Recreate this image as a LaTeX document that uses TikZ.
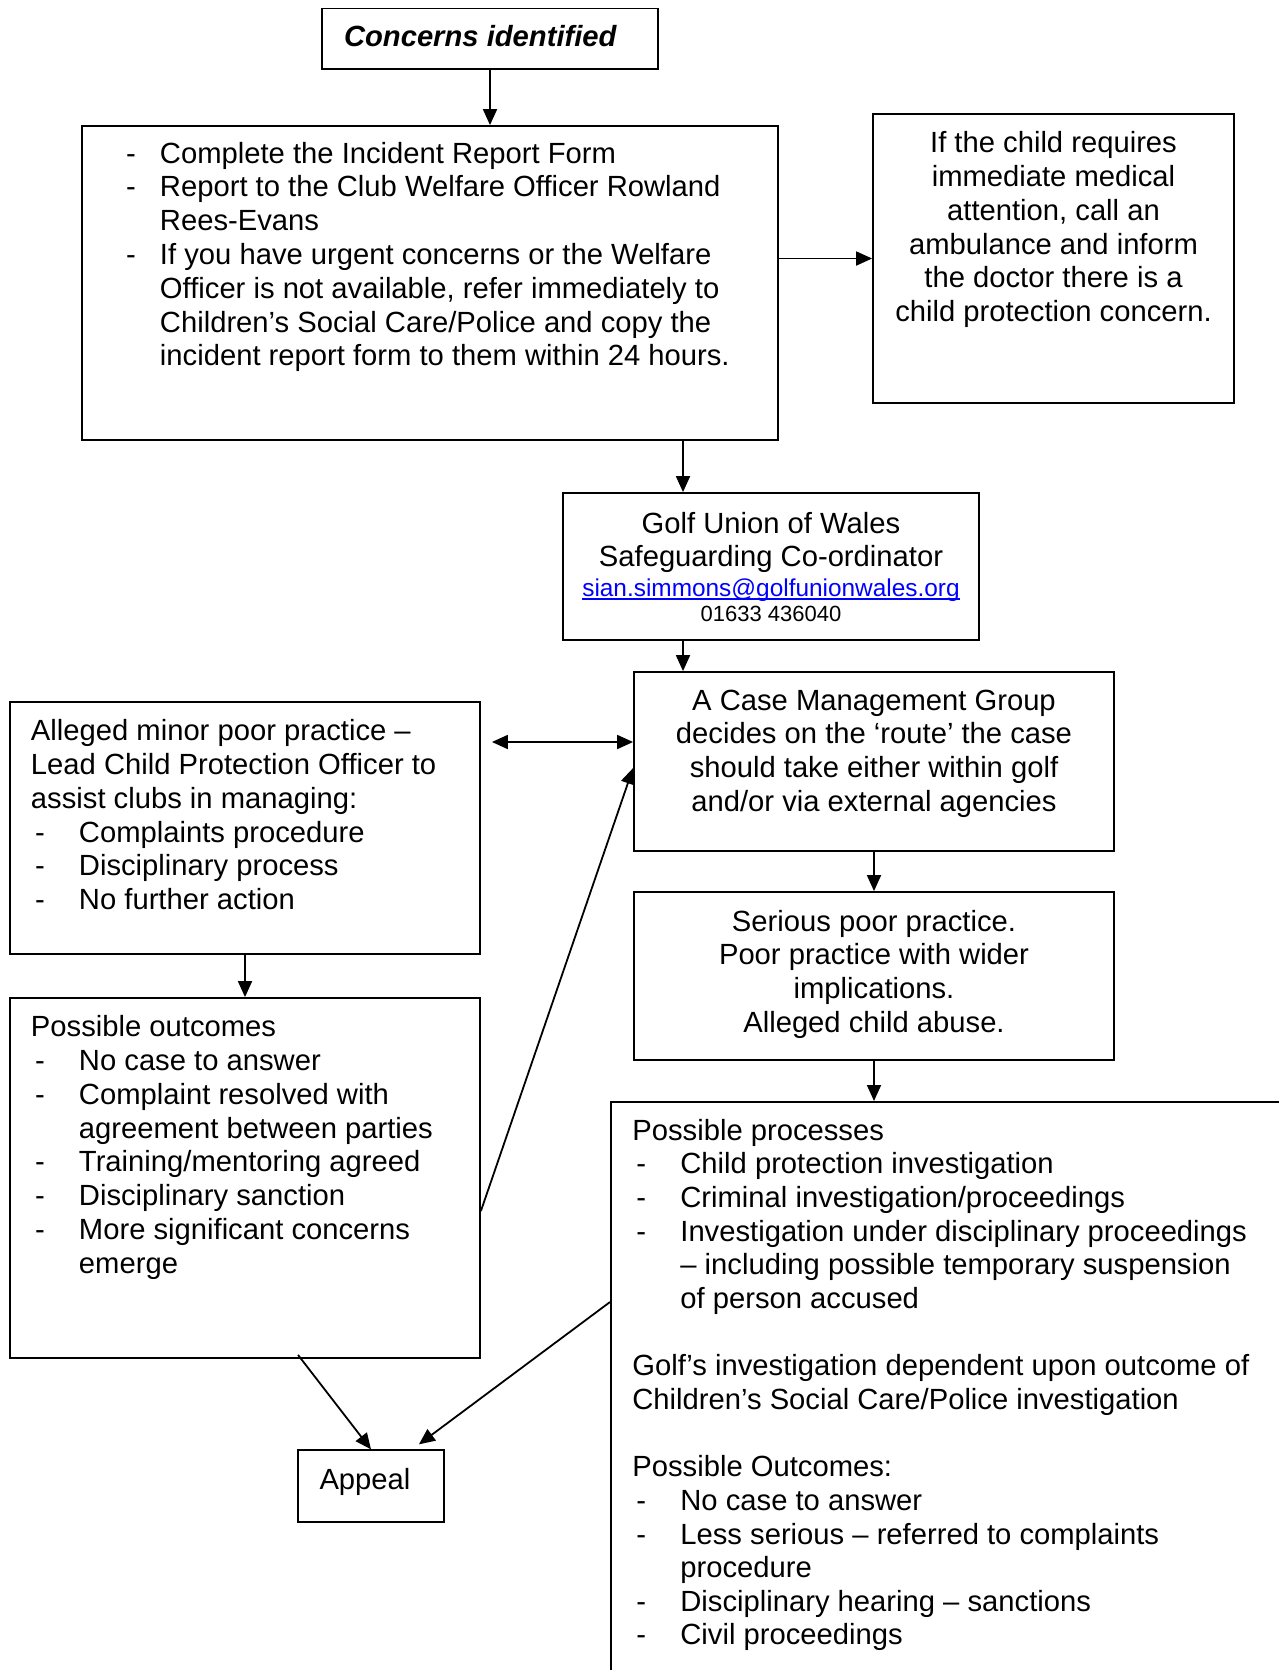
\documentclass[tikz,border=0pt]{standalone}
\usepackage{fontspec}
\setmainfont{Liberation Sans}
\usetikzlibrary{arrows.meta,calc}
\newcommand{\dl}[1]{\makebox[24pt][l]{\hspace{2pt}-}#1}
\newcommand{\dlb}[1]{\makebox[17pt][l]{-}#1}
\newcommand{\cont}{\hspace*{24pt}}
\newlength{\ulw}
\newcommand{\ulink}[1]{\settowidth{\ulw}{#1}#1\hspace{-\ulw}\rule[-1.4pt]{\ulw}{0.6pt}}
\begin{document}
\begin{tikzpicture}[x=0.5pt,y=-0.5pt,line width=0.9pt,
    font=\fontsize{14.6}{16.9}\selectfont,
    >={Triangle[length=8pt,width=7pt]},
    box/.style={draw,rectangle,inner sep=0pt},
    txt/.style={inner sep=0pt,align=left,anchor=north west},
    ctxt/.style={inner sep=0pt,align=center,anchor=north}]
    \useasboundingbox (0,0) rectangle (1279,1670);

    % boxes
    \node[box,minimum width=168pt,minimum height=30.25pt] (conc) at (490,38.75) {};
    \node[box,minimum width=348pt,minimum height=157pt] (b1) at (430,283) {};
    \node[box,minimum width=180.5pt,minimum height=144.5pt] (med) at (1053.5,258.5) {};
    \node[box,minimum width=208pt,minimum height=73.5pt] (guw) at (771,566.5) {};
    \node[box,minimum width=240pt,minimum height=89.5pt] (cmg) at (874,761.5) {};
    \node[box,minimum width=235pt,minimum height=126pt] (minor) at (245,828) {};
    \node[box,minimum width=240pt,minimum height=84pt] (serious) at (874,976) {};
    \node[box,minimum width=235pt,minimum height=180pt] (outc) at (245,1178) {};
    \node[box,minimum width=73pt,minimum height=35.75pt] (appeal) at (371,1486) {};
    \begin{scope}
        \clip (0,0) rectangle (1279,1670);
        \node[box,anchor=north west,minimum width=350pt,minimum height=300pt] (proc) at (610,1101) {};
    \end{scope}

    % texts
    \node[txt] (conct) at ($(conc.north west)+(22,17)$) {\textbf{\textit{Concerns identified}}};
    \node[txt] (b1t) at ($(b1.north west)+(44,16)$) {\dlb{Complete the Incident Report Form}\\
        \dlb{Report to the Club Welfare Officer Rowland}\\
        \hspace*{17pt}Rees-Evans\\
        \dlb{If you have urgent concerns or the Welfare}\\
        \hspace*{17pt}Officer is not available, refer immediately to\\
        \hspace*{17pt}Children’s Social Care/Police and copy the\\
        \hspace*{17pt}incident report form to them within 24 hours.};
    \node[ctxt] (medt) at ($(med.north)+(0,17.6)$) {If the child requires\\ immediate medical\\ attention, call an\\
        ambulance and inform\\ the doctor there is a\\ child protection concern.};
    \node[ctxt] (guwt) at ($(guw.north)+(0,19)$) {Golf Union of Wales\\ Safeguarding Co-ordinator\\[-2pt]
        {\fontsize{12.2}{14}\selectfont\color{blue}\ulink{sian.simmons@golfunionwales.org}}\\[-4.5pt]
        {\fontsize{11}{12}\selectfont 01633 436040}};
    \node[ctxt] (cmgt) at ($(cmg.north)+(0,17.7)$) {A Case Management Group\\ decides on the ‘route’ the case\\
        should take either within golf\\ and/or via external agencies};
    \node[txt] (minort) at ($(minor.north west)+(21,17.5)$) {Alleged minor poor practice –\\
        Lead Child Protection Officer to\\ assist clubs in managing:\\
        \dl{Complaints procedure}\\ \dl{Disciplinary process}\\ \dl{No further action}};
    \node[ctxt] (serioust) at ($(serious.north)+(0,18)$) {Serious poor practice.\\ Poor practice with wider\\
        implications.\\ Alleged child abuse.};
    \node[txt] (outct) at ($(outc.north west)+(21,17.6)$) {Possible outcomes\\ \dl{No case to answer}\\
        \dl{Complaint resolved with}\\ \cont agreement between parties\\ \dl{Training/mentoring agreed}\\
        \dl{Disciplinary sanction}\\ \dl{More significant concerns}\\ \cont emerge};
    \node[txt,font=\fontsize{14.6}{16.83}\selectfont] (proct) at ($(proc.north west)+(21.5,17)$) {Possible processes\\
        \dl{Child protection investigation}\\ \dl{Criminal investigation/proceedings}\\
        \dl{Investigation under disciplinary proceedings}\\ \cont– including possible temporary suspension\\
        \cont of person accused\\ \\
        Golf’s investigation dependent upon outcome of\\ Children’s Social Care/Police investigation\\ \\
        Possible Outcomes:\\ \dl{No case to answer}\\ \dl{Less serious – referred to complaints}\\
        \cont procedure\\ \dl{Disciplinary hearing – sanctions}\\ \dl{Civil proceedings}};
    \node[txt] (appealt) at ($(appeal.north west)+(21.5,18.5)$) {Appeal};

    % arrows
    \draw[->] (conc.south) -- (conc.south |- b1.north);
    \draw[->] (b1.east |- med.west) -- (med.west);
    \draw[->] ($(b1.south)+(253,0)$) coordinate (g0) -- (g0 |- guw.north);
    \draw[->] ($(guw.south)+(-88,0)$) coordinate (g1) -- (g1 |- cmg.north);
    \draw[<->] ($(minor.east |- cmg.west)+(11,-19.5)$) -- ($(cmg.west)+(0,-19.5)$);
    \draw[->] (cmg.south) -- (serious.north);
    \draw[->] (serious.south) -- (serious.south |- proc.north);
    \draw[->] (minor.south) -- (outc.north);
    \draw[->] ($(outc.east)+(0,33)$) -- ($(cmg.west)+(0,6.5)$);
    \draw[->] ($(outc.south)+(53,-4)$) -- (appeal.north);
    \draw[->] ($(proc.north west)+(0,201)$) -- ($(appeal.north east)+(-26,-5)$);
\end{tikzpicture}
\end{document}
